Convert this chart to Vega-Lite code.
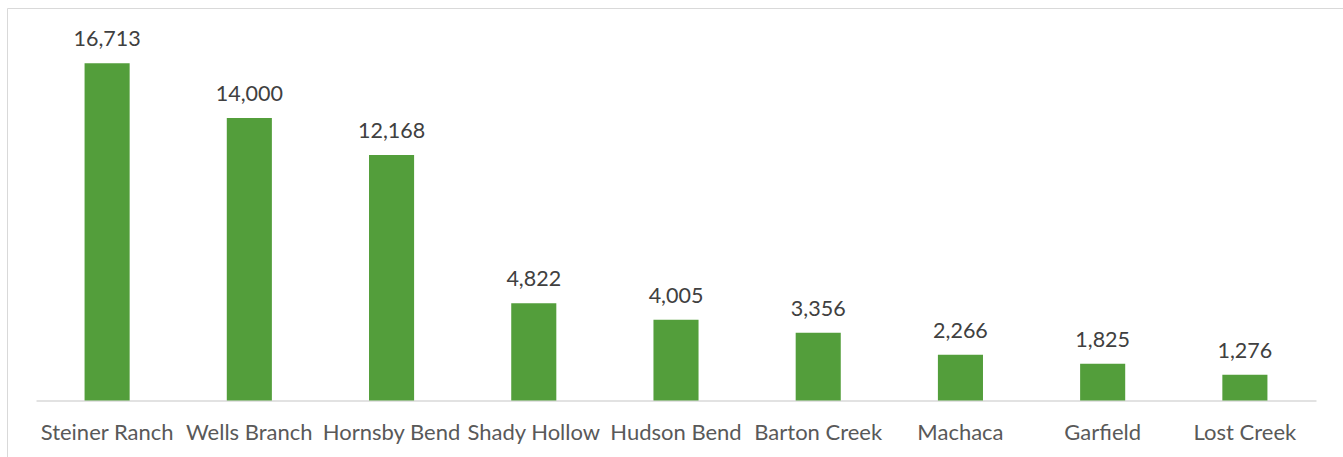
{
  "$schema": "https://vega.github.io/schema/vega-lite/v6.json",
  "width": 1338,
  "height": 452,
  "autosize": {"type": "none"},
  "padding": {"left": 7, "top": 8, "right": -2, "bottom": -3},
  "background": "white",
  "config": {"view": {"stroke": "#d9d9d9", "strokeWidth": 1}, "font": "Lato"},
  "data": {
    "values": [
      {"area": "Steiner Ranch", "value": 16713},
      {"area": "Wells Branch", "value": 14000},
      {"area": "Hornsby Bend", "value": 12168},
      {"area": "Shady Hollow", "value": 4822},
      {"area": "Hudson Bend", "value": 4005},
      {"area": "Barton Creek", "value": 3356},
      {"area": "Machaca", "value": 2266},
      {"area": "Garfield", "value": 1825},
      {"area": "Lost Creek", "value": 1276}
    ]
  },
  "encoding": {
    "x": {
      "field": "area",
      "type": "nominal",
      "sort": null,
      "scale": {"range": [29, 1309], "paddingInner": 0.683, "paddingOuter": 0.3415},
      "axis": {
        "title": null,
        "labelAngle": 0,
        "orient": "bottom",
        "offset": -59.5,
        "domainColor": "#d9d9d9",
        "domainWidth": 1.5,
        "ticks": false,
        "tickSize": 0,
        "labelPadding": 39,
        "labelBaseline": "alphabetic",
        "labelFontSize": 22,
        "labelColor": "#595959",
        "labelFont": "Lato",
        "grid": false
      }
    },
    "y": {
      "field": "value",
      "type": "quantitative",
      "scale": {"domain": [-2948.7, 19450], "nice": false, "zero": false},
      "axis": null
    }
  },
  "layer": [
    {
      "mark": {"type": "bar", "color": "#539E3B"},
      "encoding": {"y2": {"datum": 0}}
    },
    {
      "mark": {"type": "text", "dy": -17, "baseline": "alphabetic", "fontSize": 21.5, "color": "#404040", "font": "Lato"},
      "encoding": {"text": {"field": "value", "type": "quantitative", "format": ","}}
    }
  ]
}
